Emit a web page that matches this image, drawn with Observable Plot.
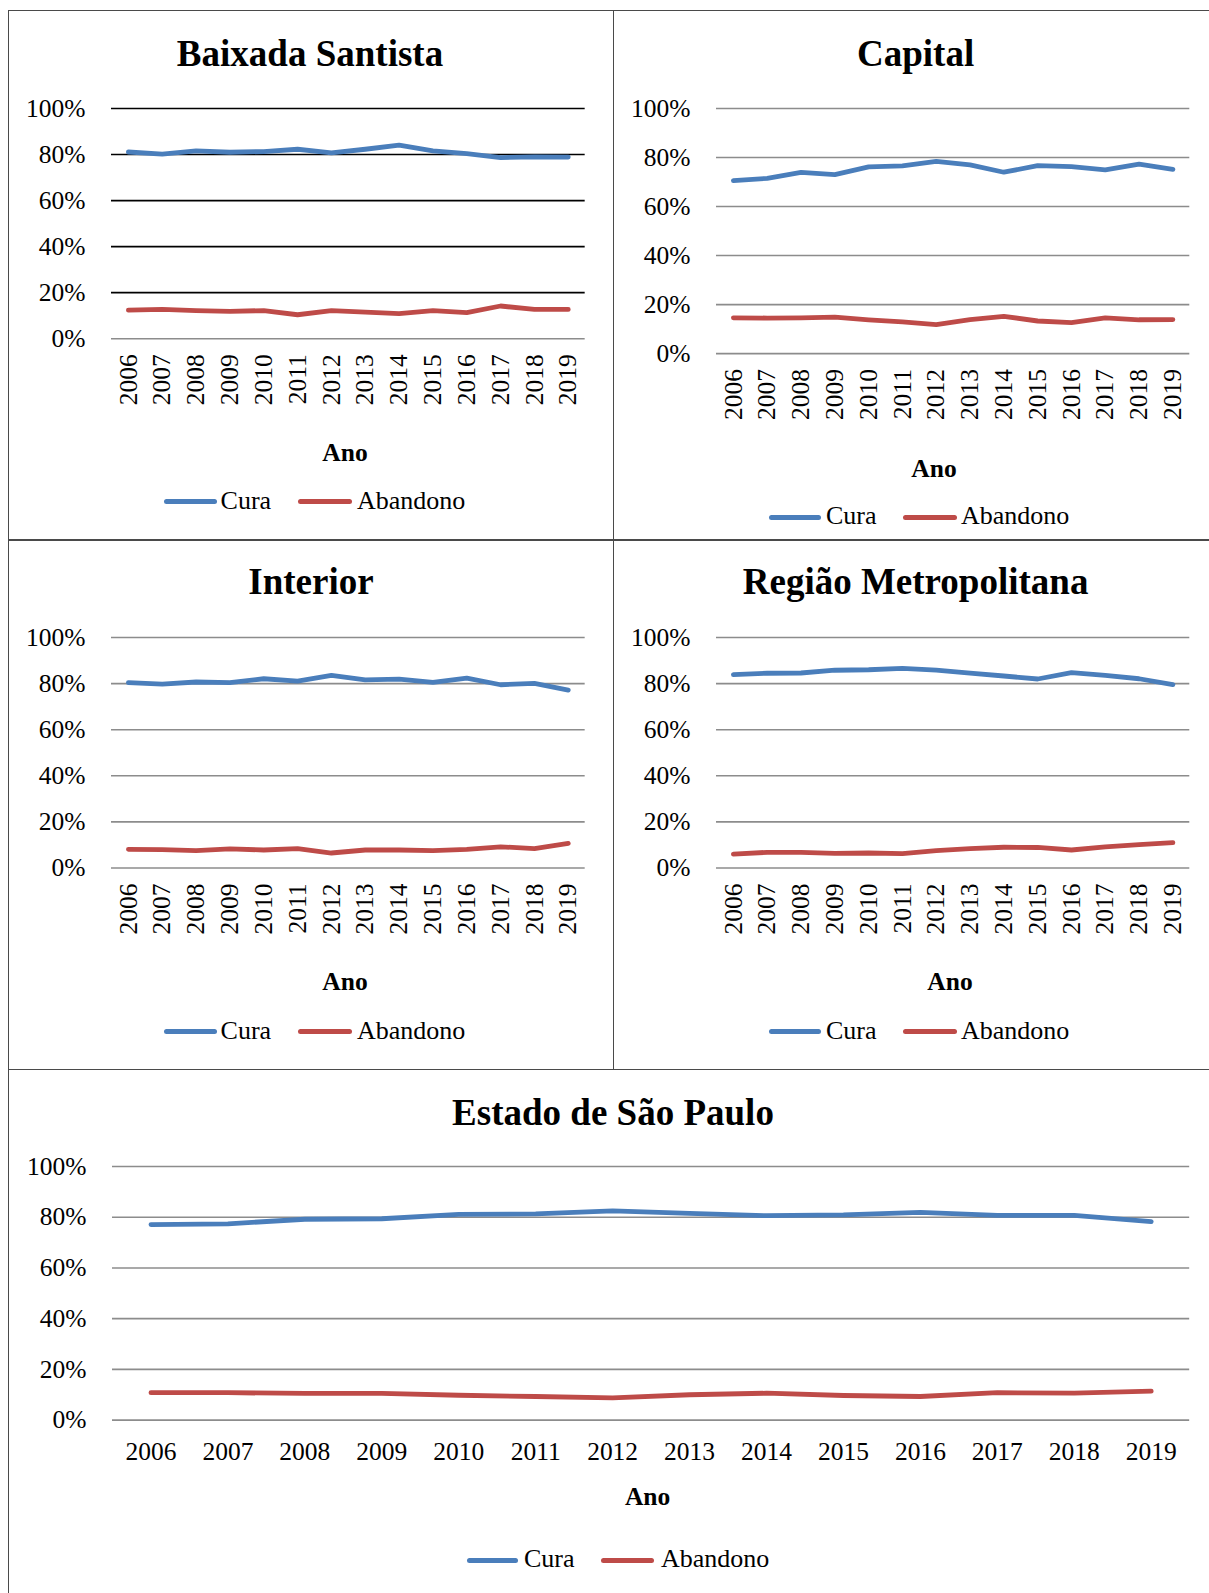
<!DOCTYPE html>
<html><head><meta charset="utf-8">
<script src="https://cdn.jsdelivr.net/npm/d3@7"></script>
<script src="https://cdn.jsdelivr.net/npm/@observablehq/plot@0.6"></script>
<style>
html,body{margin:0;padding:0;background:#fff;}
#page{position:relative;width:1209px;height:1593px;background:#fff;overflow:hidden;font-family:"Liberation Serif","Times New Roman",serif;color:#000;}
.abs{position:absolute;white-space:nowrap;}
.title{font-weight:bold;font-size:37px;line-height:37px;transform:translateX(-50%);}
.ano{font-weight:bold;font-size:25.5px;line-height:25.5px;transform:translateX(-50%);}
.leg{font-size:26px;line-height:26px;}
.sw{position:absolute;height:5px;border-radius:2.5px;}
.bd{position:absolute;background:#4a4a4a;}
.pw{position:absolute;}
.pw svg{background:transparent !important;overflow:visible;max-width:none !important;font-family:"Liberation Serif","Times New Roman",serif !important;}
.pw svg text, .pw svg g{font-family:"Liberation Serif","Times New Roman",serif !important;}
</style></head><body><div id="page"></div>
<script>
// ---- data ----
const years = ["2006","2007","2008","2009","2010","2011","2012","2013","2014","2015","2016","2017","2018","2019"];
const regionTitles = ["Baixada Santista","Capital","Interior","Região Metropolitana","Estado de São Paulo"];
const seriesNames = ["Cura","Abandono"];
const seriesColors = ["#4a7ebb","#be4b48"];
const yTicks = [0,20,40,60,80,100];
const xLabel = "Ano";

const curaBaixada    = [81.1,80.2,81.6,81.0,81.3,82.3,80.7,82.3,84.1,81.6,80.4,78.7,79.0,78.9];
const abandBaixada   = [12.4,12.7,12.2,11.9,12.2,10.4,12.2,11.5,10.9,12.2,11.3,14.2,12.7,12.7];
const curaCapital    = [70.6,71.5,73.9,73.0,76.2,76.6,78.4,77.0,74.0,76.7,76.3,75.0,77.3,75.2];
const abandCapital   = [14.6,14.5,14.6,14.9,13.8,12.9,11.8,13.9,15.2,13.3,12.6,14.6,13.8,13.9];
const curaInterior   = [80.4,79.8,80.7,80.4,82.1,81.1,83.6,81.6,81.9,80.5,82.4,79.5,80.1,77.2];
const abandInterior  = [8.1,8.0,7.5,8.3,7.8,8.4,6.5,7.8,7.8,7.5,8.1,9.2,8.4,10.7];
const curaRM         = [83.9,84.5,84.6,85.8,86.0,86.6,85.8,84.5,83.3,82.0,84.8,83.6,82.1,79.6];
const abandRM        = [6.0,6.8,6.8,6.3,6.5,6.2,7.5,8.4,9.0,8.9,7.8,9.2,10.1,11.0];
const curaEstado     = [77.1,77.4,79.2,79.4,81.1,81.3,82.5,81.5,80.6,80.9,81.9,80.7,80.7,78.3];
const abandEstado    = [10.8,10.8,10.5,10.5,9.8,9.3,8.8,10.0,10.6,9.7,9.3,10.8,10.6,11.4];

const curaAll = [curaBaixada, curaCapital, curaInterior, curaRM, curaEstado];
const abandAll = [abandBaixada, abandCapital, abandInterior, abandRM, abandEstado];

// ---- layout (pixel positions) ----
const layout = [
  {plot:[110.7,584.4,107.7,337.9], rot:true, topGrid:"#000", title:[310,66], ano:[345,461.6],
   leg:{y:501.6, b:510, sw1:[164,217], t1:220.6, sw2:[298,352], t2:357}},
  {plot:[716.2,1189.5,107.7,352.8], rot:true, topGrid:"#8c8c8c", title:[915.6,66], ano:[934,477],
   leg:{y:517, b:525, sw1:[768.5,821], t1:826, sw2:[903,957], t2:961}},
  {plot:[110.7,584.4,636.7,867.2], rot:true, topGrid:"#8c8c8c", title:[311,594.3], ano:[345,990.5],
   leg:{y:1031.6, b:1040, sw1:[164,217], t1:220.6, sw2:[298,352], t2:357}},
  {plot:[716.2,1189.5,636.7,867.2], rot:true, topGrid:"#8c8c8c", title:[915.6,594.3], ano:[950,990.5],
   leg:{y:1031.6, b:1040, sw1:[768.5,821], t1:826, sw2:[903,957], t2:961}},
  {plot:[111.8,1189,1166,1419.6], rot:false, topGrid:"#8c8c8c", title:[613,1124.6], ano:[647.6,1505],
   leg:{y:1560, b:1568, sw1:[466.5,518], t1:524, sw2:[601,654], t2:661}}
];

const page = document.getElementById("page");
function addDiv(cls, css, text) {
  const d = document.createElement("div");
  d.className = cls;
  Object.assign(d.style, css);
  if (text != null) d.textContent = text;
  page.appendChild(d);
  return d;
}

// borders
addDiv("bd", {left:"8px", top:"10px", width:"1201px", height:"1.3px"});
addDiv("bd", {left:"8px", top:"10px", width:"1.3px", height:"1583px"});
addDiv("bd", {left:"612.7px", top:"10px", width:"1.3px", height:"1060px"});
addDiv("bd", {left:"8px", top:"539.4px", width:"1201px", height:"1.3px"});
addDiv("bd", {left:"8px", top:"1068.8px", width:"1201px", height:"1.3px"});

const FS_TICK = 25.5;
layout.forEach((L, i) => {
  const [x0, x1, y0, y1] = L.plot;
  const sx = x0 - 110, sy = y0 - 25;
  const W = (x1 + 18) - sx, H = (y1 + (L.rot ? 85 : 60)) - sy;
  const cura = years.map((yr, j) => ({year: yr, v: curaAll[i][j]}));
  const aband = years.map((yr, j) => ({year: yr, v: abandAll[i][j]}));
  const chart = Plot.plot({
    width: W, height: H,
    marginLeft: x0 - sx, marginRight: sx + W - x1,
    marginTop: y0 - sy, marginBottom: sy + H - y1,
    style: {background: "transparent", fontFamily: "'Liberation Serif', serif", fontSize: FS_TICK + "px", color: "#000", overflow: "visible"},
    x: {type: "point", domain: years, padding: 0.5, round: false, label: null},
    y: {domain: [0, 100], label: null},
    marks: [
      Plot.ruleY(yTicks.filter(d => d > 0), {stroke: L.topGrid, strokeWidth: 1.6}),
      Plot.ruleY([0], {stroke: "#8c8c8c", strokeWidth: 1.6}),
      Plot.axisY({ticks: yTicks, tickFormat: d => d + "%", tickSize: 0, tickPadding: 26, label: null, fontFamily: "Liberation Serif"}),
      L.rot
        ? Plot.axisX({tickSize: 0, tickPadding: 15.5, tickRotate: -90, label: null, fontFamily: "Liberation Serif"})
        : Plot.axisX({tickSize: 0, tickPadding: 21.5, label: null, fontFamily: "Liberation Serif"}),
      Plot.line(aband, {x: "year", y: "v", stroke: seriesColors[1], strokeWidth: 4.8, strokeLinecap: "round", strokeLinejoin: "round"}),
      Plot.line(cura, {x: "year", y: "v", stroke: seriesColors[0], strokeWidth: 4.8, strokeLinecap: "round", strokeLinejoin: "round"})
    ]
  });
  const wrap = addDiv("pw", {left: sx + "px", top: sy + "px", width: W + "px", height: H + "px"});
  wrap.appendChild(chart);

  // title
  addDiv("abs title", {left: L.title[0] + "px", top: (L.title[1] - 0.8375 * 37) + "px"}, regionTitles[i]);
  // x label
  addDiv("abs ano", {left: L.ano[0] + "px", top: (L.ano[1] - 0.8375 * 25.5) + "px"}, xLabel);
  // legend
  const lg = L.leg;
  [[lg.sw1, lg.t1], [lg.sw2, lg.t2]].forEach(([sw, t], k) => {
    addDiv("sw", {left: sw[0] + "px", top: (lg.y - 2.5) + "px", width: (sw[1] - sw[0]) + "px", background: seriesColors[k]});
    addDiv("abs leg", {left: t + "px", top: (lg.b - 0.8375 * 26) + "px"}, seriesNames[k]);
  });
});
</script></body></html>
